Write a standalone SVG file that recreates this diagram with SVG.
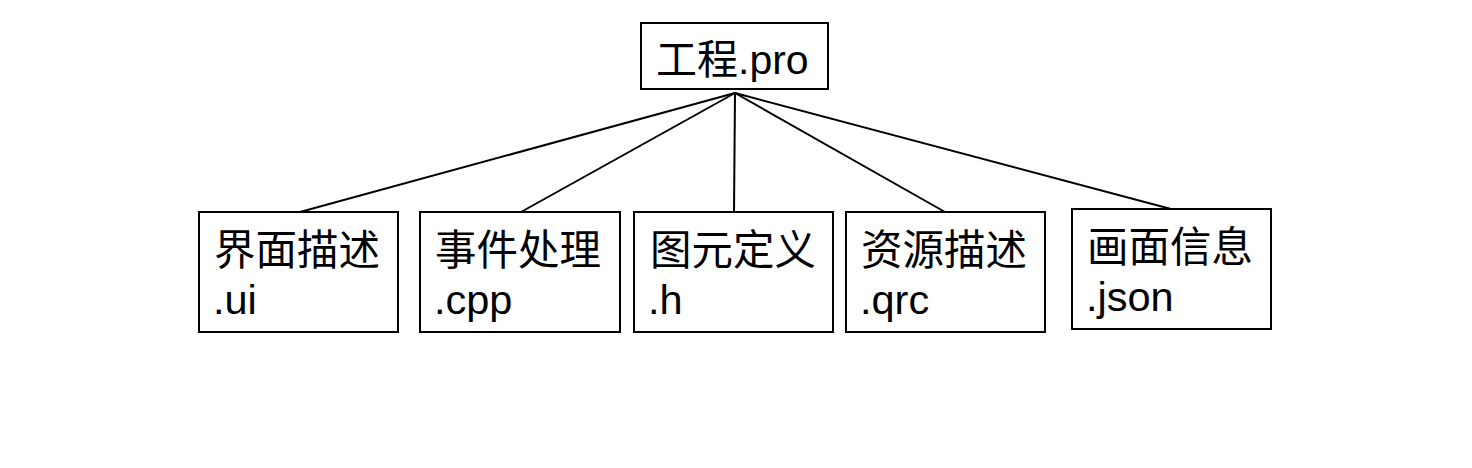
<svg xmlns="http://www.w3.org/2000/svg" width="1472" height="468" viewBox="0 0 1472 468">
<style>
.box{fill:#fff;stroke:#000;stroke-width:2}
.t{font-family:"Liberation Sans","Noto Sans CJK SC",sans-serif;font-size:41.5px;fill:#000}
.c{stroke:#000;stroke-width:2;fill:none}
</style>
<rect width="1472" height="468" fill="#fff"/>
<g id="connectors">
<line class="c" x1="735" y1="93" x2="300" y2="212"/>
<line class="c" x1="735" y1="93" x2="521" y2="212"/>
<line class="c" x1="735" y1="93" x2="734" y2="212"/>
<line class="c" x1="735" y1="93" x2="945" y2="212"/>
<line class="c" x1="735" y1="93" x2="1171" y2="209"/>
</g>
<g id="root">
<rect class="box" x="641" y="23" width="187" height="66"/>
<text class="t" x="656" y="74" style="font-size:41px">工程.pro</text>
</g>
<g id="ui">
<rect class="box" x="199" y="212" width="199" height="120"/>
<text class="t" x="214" y="265">界面描述</text>
<text class="t" x="213" y="314">.ui</text>
</g>
<g id="cpp">
<rect class="box" x="420" y="212" width="200" height="120"/>
<text class="t" x="435" y="265">事件处理</text>
<text class="t" x="434" y="314">.cpp</text>
</g>
<g id="h">
<rect class="box" x="634" y="212" width="199" height="120"/>
<text class="t" x="650" y="265">图元定义</text>
<text class="t" x="648" y="314">.h</text>
</g>
<g id="qrc">
<rect class="box" x="846" y="212" width="199" height="120"/>
<text class="t" x="861" y="265">资源描述</text>
<text class="t" x="860" y="314">.qrc</text>
</g>
<g id="json">
<rect class="box" x="1072" y="209" width="199" height="120"/>
<text class="t" x="1087" y="262">画面信息</text>
<text class="t" x="1086" y="311">.json</text>
</g>
</svg>
